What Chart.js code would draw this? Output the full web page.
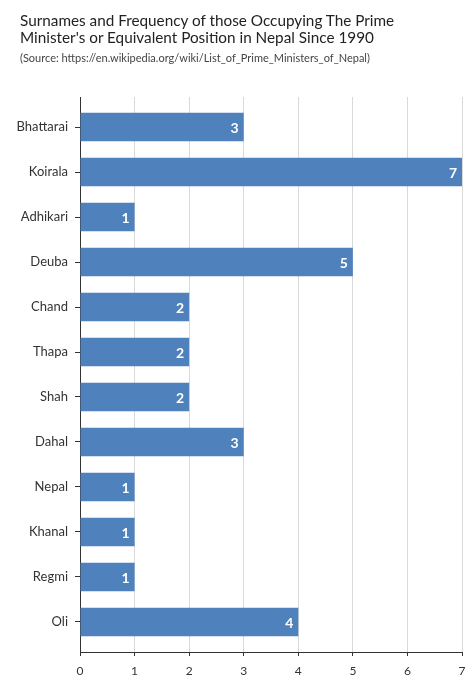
<!DOCTYPE html>
<html>
<head>
<meta charset="utf-8">
<script src="https://cdn.jsdelivr.net/npm/chart.js@4/dist/chart.umd.min.js"></script>
<style>
  html, body { margin: 0; padding: 0; background: #fff; }
  #wrap { position: relative; width: 470px; height: 680px; }
  #c { position: absolute; left: 0; top: 0; }
  #title { position: absolute; left: 20px; top: 12px; font: 15.3px/17px Lato, 'Noto Sans', sans-serif; color: #222; white-space: nowrap; }
  #subtitle { position: absolute; left: 20px; top: 51px; font: 11px/14px Lato, 'Noto Sans', sans-serif; color: #444; white-space: nowrap; }
</style>
</head>
<body>
<div id="wrap">
  <canvas id="c" width="470" height="680"></canvas>
  <div id="title"></div>
  <div id="subtitle"></div>
</div>
<script>
const categories = ["Bhattarai", "Koirala", "Adhikari", "Deuba", "Chand", "Thapa", "Shah", "Dahal", "Nepal", "Khanal", "Regmi", "Oli"];
const frequency = [3, 7, 1, 5, 2, 2, 2, 3, 1, 1, 1, 4];
const xTickValues = [0, 1, 2, 3, 4, 5, 6, 7];
const titleLines = ["Surnames and Frequency of those Occupying The Prime", "Minister's or Equivalent Position in Nepal Since 1990"];
const subtitleText = "(Source: https://en.wikipedia.org/wiki/List_of_Prime_Ministers_of_Nepal)";

document.getElementById('title').innerHTML = titleLines.map(t => t.replace(/&/g, '&amp;').replace(/</g, '&lt;')).join('<br>');
document.getElementById('subtitle').textContent = subtitleText;

const FONT = "Lato, 'Noto Sans', sans-serif";

const barLabels = {
  id: 'barLabels',
  afterDatasetsDraw(chart) {
    const ctx = chart.ctx;
    const meta = chart.getDatasetMeta(0);
    ctx.save();
    ctx.fillStyle = '#ffffff';
    ctx.font = "bold 14px " + FONT;
    ctx.textAlign = 'right';
    ctx.textBaseline = 'middle';
    meta.data.forEach((el, i) => {
      ctx.fillText(String(frequency[i]), el.x - 5, el.y + 1);
    });
    ctx.restore();
  }
};

new Chart(document.getElementById('c'), {
  type: 'bar',
  data: {
    labels: categories,
    datasets: [{
      data: frequency,
      backgroundColor: '#4f81bd',
      borderWidth: 0,
      categoryPercentage: 1,
      barPercentage: 0.63
    }]
  },
  options: {
    indexAxis: 'y',
    responsive: false,
    animation: false,
    devicePixelRatio: 1,
    layout: { padding: { left: 0, right: 8, top: 97, bottom: 0 } },
    plugins: {
      legend: { display: false },
      tooltip: { enabled: false },
      title: { display: false },
      subtitle: { display: false }
    },
    scales: {
      x: {
        type: 'linear',
        min: 0,
        max: 7,
        afterBuildTicks(scale) { scale.ticks = xTickValues.map(v => ({ value: v })); },
        afterFit(scale) { scale.height = 28; scale.paddingRight = 0; scale.paddingLeft = 0; },
        border: { display: true, color: '#333', width: 1 },
        grid: { color: '#d9d9d9', tickColor: '#333', tickLength: 4, lineWidth: 1 },
        ticks: { color: '#333', padding: 8, font: { family: FONT, size: 12 } }
      },
      y: {
        type: 'category',
        offset: true,
        afterBuildTicks(scale) {
          const pad = 0.167;
          scale._startValue = -0.5 - pad;
          scale._valueRange = categories.length + 2 * pad;
        },
        afterFit(scale) { scale.width = 80; },
        border: { display: true, color: '#333', width: 1 },
        grid: { display: true, offset: false, drawOnChartArea: false, color: '#333', tickLength: 5 },
        ticks: { color: '#333', padding: 7, font: { family: FONT, size: 13 } }
      }
    }
  },
  plugins: [barLabels]
});
</script>
</body>
</html>
